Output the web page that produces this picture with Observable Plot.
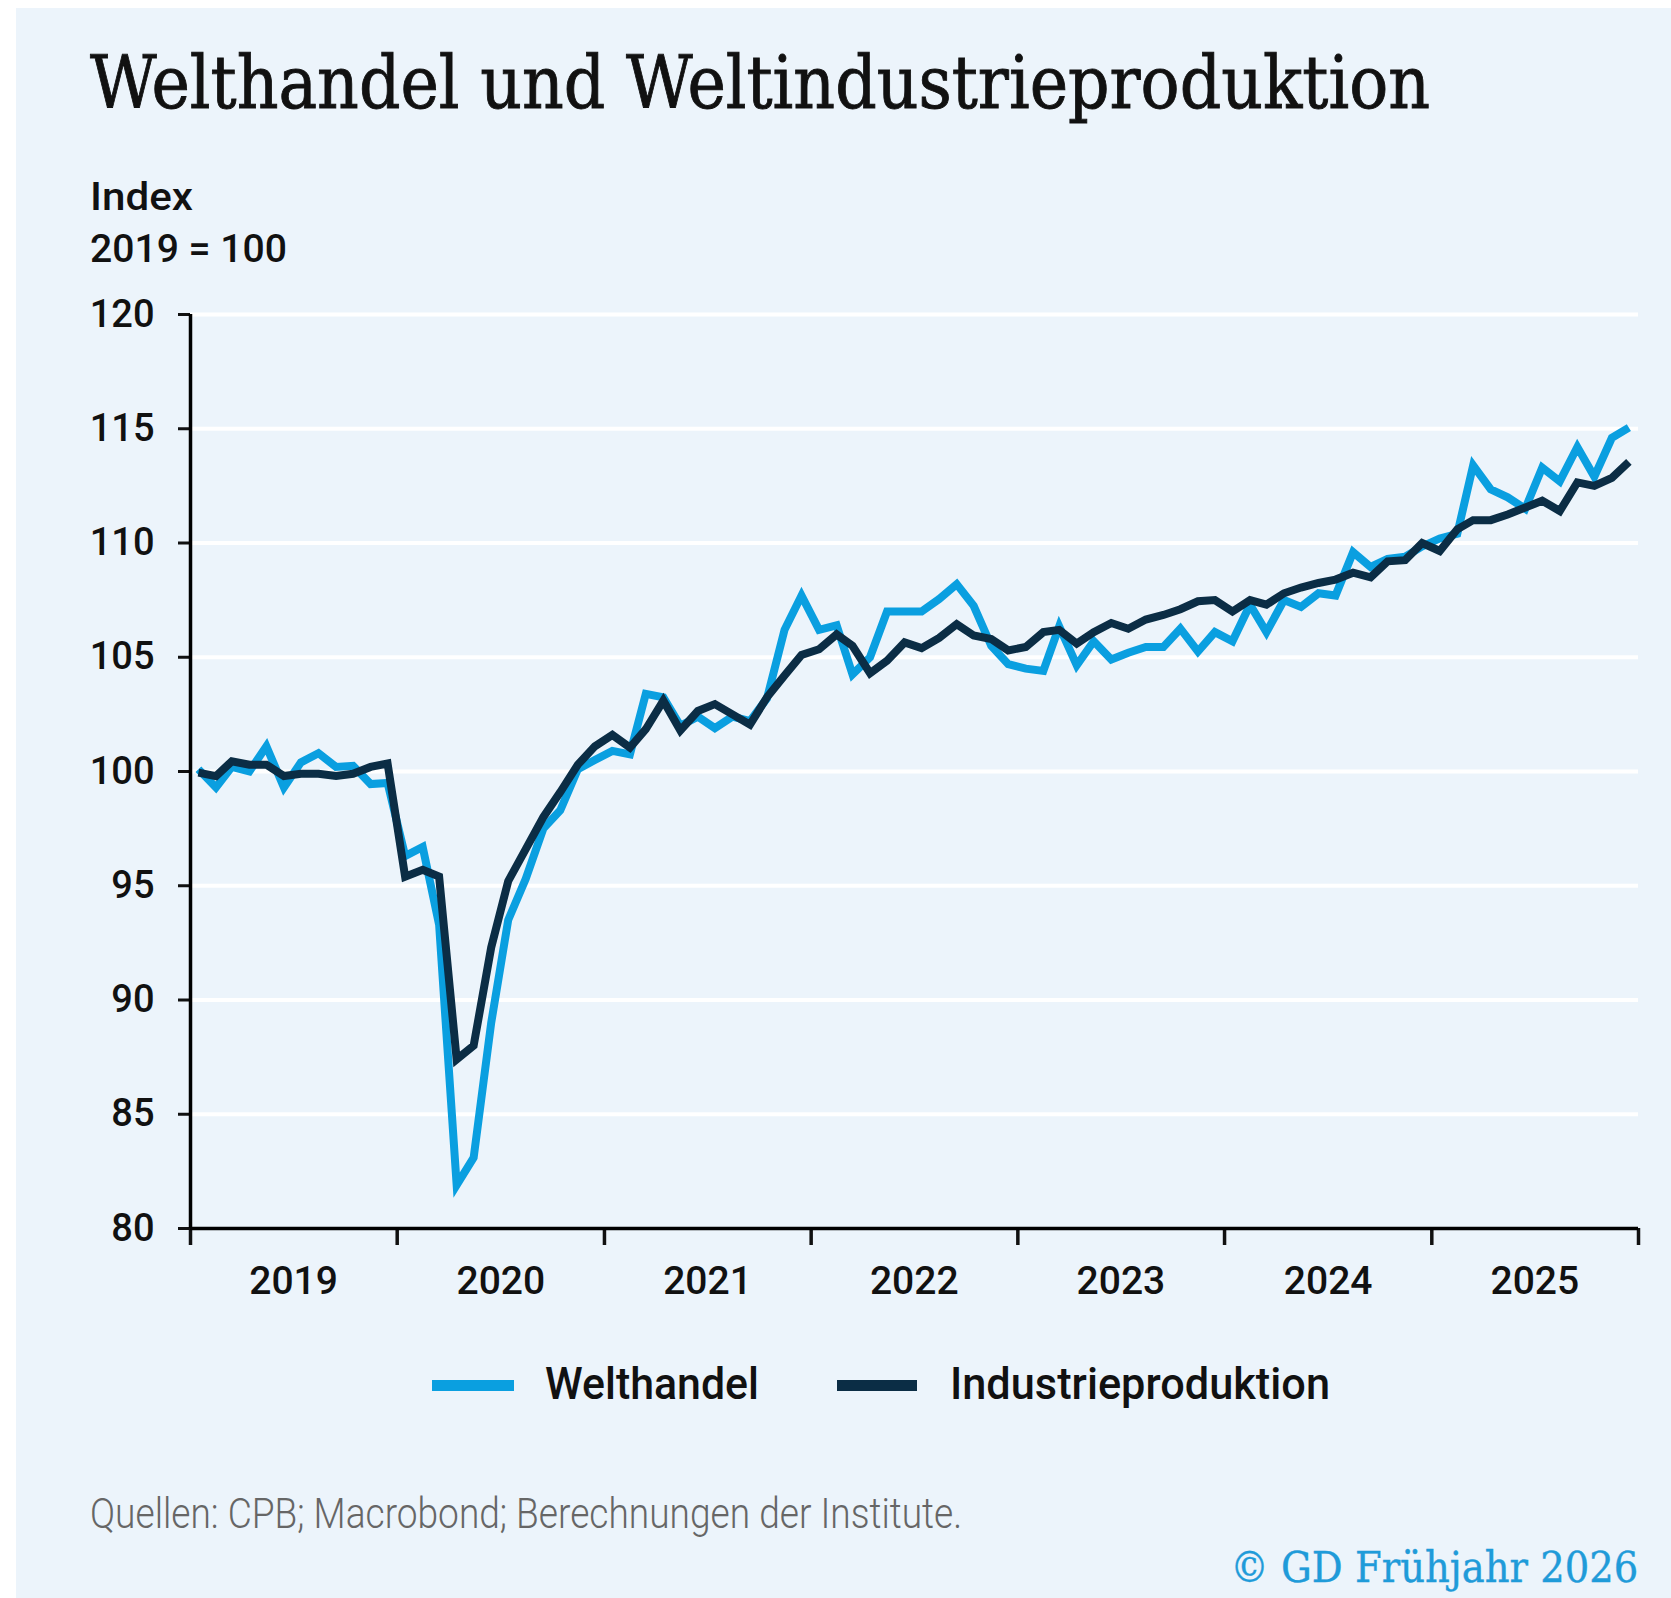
<!DOCTYPE html>
<html><head><meta charset="utf-8">
<script src="https://cdn.jsdelivr.net/npm/d3@7"></script>
<script src="https://cdn.jsdelivr.net/npm/@observablehq/plot@0.6"></script>
<style>
html,body{margin:0;padding:0;background:#fff;}
#page{position:relative;width:1671px;height:1598px;overflow:hidden;background:#fff;font-family:Roboto,sans-serif;color:#111;}
#panel{position:absolute;left:16px;top:8px;right:0;bottom:0;background:#ecf4fb;}
.t{position:absolute;white-space:nowrap;line-height:1;transform-origin:0 0;}
#chart{position:absolute;left:0;top:270px;}
#legend{position:absolute;left:0;top:0;}
.sw{position:absolute;height:11px;}
</style></head><body>
<div id="page"><div id="panel"></div>
<div id="title" class="t" style="font-family:'DejaVu Serif',serif;font-size:72px;left:90px;top:47px;color:#111;-webkit-text-stroke:0.9px #111;">Welthandel und Weltindustrieproduktion</div>
<div id="sub1" class="t" style="font-size:39px;font-weight:500;left:90px;top:178px;">Index</div>
<div id="sub2" class="t" style="font-size:39px;font-weight:500;left:90px;top:230px;">2019 = 100</div>
<div id="chart"></div>
<div id="legend"></div>
<div id="source" class="t" style="font-size:43px;font-weight:300;left:90px;top:1492px;color:#666;">Quellen: CPB; Macrobond; Berechnungen der Institute.</div>
<div id="copy" class="t" style="font-family:'DejaVu Serif',serif;font-size:43px;right:33px;top:1546px;color:#1f9bd9;transform-origin:100% 0;-webkit-text-stroke:0.4px #1f9bd9;">© GD Frühjahr 2026</div>
</div>
<script>
// ---- data ----
const seriesNames = ["Welthandel", "Industrieproduktion"];
const seriesColors = ["#0a9fe0", "#0b2d45"];
const startMonth = "2019-01";
const yTicks = [80, 85, 90, 95, 100, 105, 110, 115, 120];
const yearLabels = [2019, 2020, 2021, 2022, 2023, 2024, 2025];

const welthandel = [
  100.1, 99.3, 100.2, 100.0, 101.1, 99.3, 100.4, 100.8, 100.2, 100.25, 99.45, 99.5,
  96.3, 96.7, 93.3, 81.9, 83.1, 89.0, 93.5, 95.3, 97.5, 98.3, 100.1, 100.5,
  100.9, 100.75, 103.4, 103.25, 102.0, 102.4, 101.9, 102.4, 102.2, 103.2, 106.2, 107.7,
  106.2, 106.4, 104.25, 105.0, 107.0, 107.0, 107.0, 107.55, 108.2, 107.25, 105.5, 104.7,
  104.5, 104.4, 106.35, 104.65, 105.7, 104.9, 105.2, 105.45, 105.45, 106.25, 105.25, 106.1,
  105.7, 107.3, 106.1, 107.5, 107.2, 107.8, 107.7, 109.6, 108.95, 109.3, 109.4, 109.85,
  110.2, 110.4, 113.4, 112.35, 112.0, 111.5, 113.3, 112.7, 114.2, 112.9, 114.6, 115.05
];
const industrie = [
  99.95, 99.8, 100.45, 100.3, 100.3, 99.8, 99.9, 99.9, 99.8, 99.9, 100.2, 100.35,
  95.4, 95.7, 95.4, 87.4, 88.0, 92.3, 95.2, 96.6, 98.0, 99.1, 100.3, 101.1,
  101.6, 101.05, 101.85, 103.1, 101.8, 102.65, 102.95, 102.5, 102.05, 103.25, 104.2, 105.1,
  105.35, 106.0, 105.5, 104.3, 104.85, 105.65, 105.4, 105.85, 106.45, 105.95, 105.8, 105.3,
  105.45, 106.1, 106.2, 105.6, 106.1, 106.5, 106.25, 106.65, 106.85, 107.1, 107.45, 107.5,
  107.0, 107.5, 107.3, 107.8, 108.05, 108.25, 108.4, 108.7, 108.5, 109.2, 109.25, 110.0,
  109.65, 110.6, 111.0, 111.0, 111.25, 111.55, 111.85, 111.4, 112.65, 112.5, 112.85, 113.55
];

// ---- build table ----
const t0 = d3.utcParse("%Y-%m")(startMonth);
const monthDate = i => d3.utcDay.offset(d3.utcMonth.offset(t0, i), 14);
const series = [welthandel, industrie];
const rows = series.map((vals, s) => vals.map((v, i) => ({date: monthDate(i), value: v, series: seriesNames[s]})));
const yearStarts = d3.range(yearLabels[0], yearLabels[yearLabels.length - 1] + 2).map(y => new Date(Date.UTC(y, 0, 1)));
const yearMids = yearLabels.map(y => new Date(Date.UTC(y, 6, 2)));

const chart = Plot.plot({
  width: 1671, height: 1038,
  marginTop: 44, marginBottom: 80, marginLeft: 190, marginRight: 33,
  style: {background: "transparent", fontFamily: "Roboto, sans-serif", color: "#111", overflow: "visible"},
  x: {type: "utc", domain: [yearStarts[0], yearStarts[yearStarts.length - 1]]},
  y: {domain: [yTicks[0], yTicks[yTicks.length - 1]]},
  marks: [
    Plot.gridY(yTicks.slice(1), {stroke: "#ffffff", strokeOpacity: 1, strokeWidth: 4}),
    ...rows.map((r, s) => Plot.lineY(r, {x: "date", y: "value", stroke: seriesColors[s], strokeWidth: 8, strokeLinejoin: "miter", strokeMiterlimit: 4, strokeLinecap: "butt"})),
    Plot.axisY(yTicks, {tickSize: 12, tickPadding: 24, fontSize: 38, fontWeight: 500, strokeWidth: 3, label: null, fill: "#111"}),
    Plot.axisX(yearStarts, {tickSize: 17, tickFormat: () => "", strokeWidth: 3.5, label: null}),
    Plot.axisX(yearMids, {tickSize: 0, tickPadding: 38, tickFormat: d3.utcFormat("%Y"), fontSize: 39, fontWeight: 500, label: null, fill: "#111"}),
    Plot.ruleY([yTicks[0]], {stroke: "#000", strokeWidth: 3.5}),
    Plot.ruleX([yearStarts[0]], {stroke: "#000", strokeWidth: 3.5})
  ]
});
document.getElementById("chart").appendChild(chart);

// ---- legend ----
const legend = document.getElementById("legend");
const legendLayout = [{sx: 432, sw: 82, tx: 545, tw: 214}, {sx: 837, sw: 80, tx: 950, tw: 380}];
seriesNames.forEach((name, i) => {
  const L = legendLayout[i];
  const sw = document.createElement("div");
  sw.className = "sw";
  sw.style.cssText = `left:${L.sx}px;top:1380px;width:${L.sw}px;background:${seriesColors[i]};`;
  legend.appendChild(sw);
  const tx = document.createElement("div");
  tx.className = "t";
  tx.textContent = name;
  tx.style.cssText += `left:${L.tx}px;top:1361px;font-size:45px;font-weight:500;`;
  tx.dataset.w = L.tw;
  legend.appendChild(tx);
});

// ---- fit text widths ----
function fit(el, w) {
  const r = el.getBoundingClientRect().width;
  if (r > 0) el.style.transform = `scaleX(${w / r})`;
}
fit(document.getElementById("title"), 1340);
fit(document.getElementById("sub1"), 103);
fit(document.getElementById("sub2"), 197);
fit(document.getElementById("source"), 872);
fit(document.getElementById("copy"), 408);
legend.querySelectorAll(".t").forEach(el => fit(el, +el.dataset.w));
</script>
</body></html>
